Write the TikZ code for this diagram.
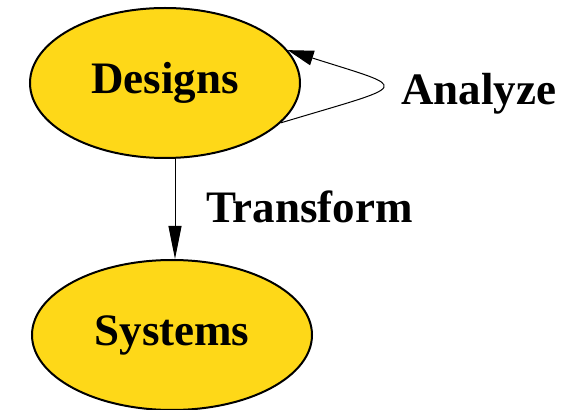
\documentclass[tikz,border=0pt]{standalone}
\usepackage{fontspec}
\setmainfont{Liberation Serif}
\usepackage{tikz}
\usetikzlibrary{arrows.meta,positioning,shapes.geometric}

\definecolor{stategold}{RGB}{254,216,24}

\begin{document}
\begin{tikzpicture}[x=1pt,y=1pt,
  st/.style={ellipse,draw,line width=2pt,fill=stategold,inner sep=0pt,
    font=\bfseries\fontsize{45}{50}\selectfont},
  lbl/.style={font=\bfseries\fontsize{45}{50}\selectfont,inner sep=0pt,anchor=base west},
  flow/.style={line width=1pt,-{Triangle[length=33pt,width=13pt]}},
  loop/.style={line width=1pt,-{Triangle[length=26pt,width=15pt]}}]
\useasboundingbox (0,0) rectangle (571,410);
\node[st,minimum width=270pt,minimum height=150pt] (D) at (165,327) {Designs};
\node[st,minimum width=280pt,minimum height=150pt] (S) at (172,75) {Systems};
\node[lbl] (A) at (401,305) {Analyze};
\node[lbl] (T) at (206,187) {Transform};
\draw[loop] (D.-19) .. controls (413,327) and (413,320) .. (D.15);
\draw[flow] ([xshift=10pt]D.south) -- ([xshift=3pt]S.north);
\end{tikzpicture}
\end{document}
